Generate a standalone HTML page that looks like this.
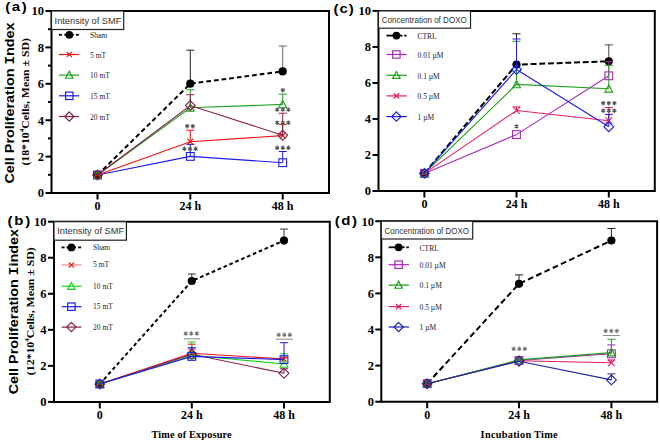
<!DOCTYPE html><html><head><meta charset="utf-8"><style>html,body{margin:0;padding:0;background:#fff;}svg{display:block}</style></head><body>
<svg width="660" height="442" viewBox="0 0 660 442">
<rect width="660" height="442" fill="#fff"/>
<text transform="translate(13.6,183.5) rotate(-90)" font-family='"Liberation Sans", sans-serif' font-size="13" font-weight="bold" textLength="161.1" lengthAdjust="spacingAndGlyphs">Cell Proliferation <tspan font-family='"Liberation Mono", monospace'>I</tspan>ndex</text>
<text transform="translate(28.9,165.6) rotate(-90)" font-family='"Liberation Serif", serif' font-size="11" font-weight="bold" textLength="127.5" lengthAdjust="spacingAndGlyphs">(18*10<tspan font-size="6.5" dy="-4.5">4</tspan><tspan dy="4.5">Cells, Mean ± SD)</tspan></text>
<text transform="translate(18.1,394.3) rotate(-90)" font-family='"Liberation Sans", sans-serif' font-size="13" font-weight="bold" textLength="165.3" lengthAdjust="spacingAndGlyphs">Cell Proliferation <tspan font-family='"Liberation Mono", monospace'>I</tspan>index</text>
<text transform="translate(33.7,375.2) rotate(-90)" font-family='"Liberation Serif", serif' font-size="11" font-weight="bold" textLength="128" lengthAdjust="spacingAndGlyphs">(12*10<tspan font-size="6.5" dy="-4.5">4</tspan><tspan dy="4.5">Cells, Mean ± SD)</tspan></text>
<text transform="translate(5.2,11.3) scale(1.13,1)" font-family='"Liberation Sans", sans-serif' font-size="13.3" font-weight="bold" textLength="19.12" lengthAdjust="spacing">(a)</text>
<text transform="translate(7.4,224.6) scale(1.13,1)" font-family='"Liberation Sans", sans-serif' font-size="13.3" font-weight="bold" textLength="20.18" lengthAdjust="spacing">(b)</text>
<text transform="translate(333.5,13.2) scale(1.13,1)" font-family='"Liberation Sans", sans-serif' font-size="13.3" font-weight="bold" textLength="17.96" lengthAdjust="spacing">(c)</text>
<text transform="translate(334.7,225.2) scale(1.13,1)" font-family='"Liberation Sans", sans-serif' font-size="13.3" font-weight="bold" textLength="19.65" lengthAdjust="spacing">(d)</text>
<text x="151.4" y="438.2" font-family='"Liberation Serif", serif' font-size="10.3" font-weight="bold" textLength="80.3" lengthAdjust="spacing">Time of Exposure</text>
<text x="480.6" y="437.8" font-family='"Liberation Serif", serif' font-size="10.3" font-weight="bold" textLength="77" lengthAdjust="spacing">Incubation Time</text>
<path d="M51.5,11H329V193H51.5Z" fill="none" stroke="#000" stroke-width="2"/>
<line x1="45.5" y1="193" x2="51.5" y2="193" stroke="#000" stroke-width="2" />
<text x="44.1" y="197.4" font-family='"Liberation Serif", serif' font-size="12.5" font-weight="bold" text-anchor="end" fill="#000" >0</text>
<line x1="48" y1="174.8" x2="51.5" y2="174.8" stroke="#000" stroke-width="2" />
<line x1="45.5" y1="156.6" x2="51.5" y2="156.6" stroke="#000" stroke-width="2" />
<text x="44.1" y="161" font-family='"Liberation Serif", serif' font-size="12.5" font-weight="bold" text-anchor="end" fill="#000" >2</text>
<line x1="48" y1="138.4" x2="51.5" y2="138.4" stroke="#000" stroke-width="2" />
<line x1="45.5" y1="120.2" x2="51.5" y2="120.2" stroke="#000" stroke-width="2" />
<text x="44.1" y="124.6" font-family='"Liberation Serif", serif' font-size="12.5" font-weight="bold" text-anchor="end" fill="#000" >4</text>
<line x1="48" y1="102" x2="51.5" y2="102" stroke="#000" stroke-width="2" />
<line x1="45.5" y1="83.8" x2="51.5" y2="83.8" stroke="#000" stroke-width="2" />
<text x="44.1" y="88.2" font-family='"Liberation Serif", serif' font-size="12.5" font-weight="bold" text-anchor="end" fill="#000" >6</text>
<line x1="48" y1="65.6" x2="51.5" y2="65.6" stroke="#000" stroke-width="2" />
<line x1="45.5" y1="47.4" x2="51.5" y2="47.4" stroke="#000" stroke-width="2" />
<text x="44.1" y="51.8" font-family='"Liberation Serif", serif' font-size="12.5" font-weight="bold" text-anchor="end" fill="#000" >8</text>
<line x1="48" y1="29.2" x2="51.5" y2="29.2" stroke="#000" stroke-width="2" />
<line x1="45.5" y1="11" x2="51.5" y2="11" stroke="#000" stroke-width="2" />
<text x="44.1" y="15.4" font-family='"Liberation Serif", serif' font-size="12.5" font-weight="bold" text-anchor="end" fill="#000" >10</text>
<line x1="97.5" y1="193" x2="97.5" y2="199.5" stroke="#000" stroke-width="2" />
<text x="97.5" y="210.3" font-family='"Liberation Serif", serif' font-size="12" font-weight="bold" text-anchor="middle" fill="#000" xml:space="preserve">0</text>
<line x1="190.3" y1="193" x2="190.3" y2="199.5" stroke="#000" stroke-width="2" />
<text x="190.3" y="210.3" font-family='"Liberation Serif", serif' font-size="12" font-weight="bold" text-anchor="middle" fill="#000" xml:space="preserve">24 h</text>
<line x1="282.7" y1="193" x2="282.7" y2="199.5" stroke="#000" stroke-width="2" />
<text x="282.7" y="210.3" font-family='"Liberation Serif", serif' font-size="12" font-weight="bold" text-anchor="middle" fill="#000" xml:space="preserve">48 h</text>
<path d="M54,221.7H329.8V401.9H54Z" fill="none" stroke="#000" stroke-width="2"/>
<line x1="48" y1="401.9" x2="54" y2="401.9" stroke="#000" stroke-width="2" />
<text x="46.6" y="406.3" font-family='"Liberation Serif", serif' font-size="12.5" font-weight="bold" text-anchor="end" fill="#000" >0</text>
<line x1="48" y1="365.86" x2="54" y2="365.86" stroke="#000" stroke-width="2" />
<text x="46.6" y="370.26" font-family='"Liberation Serif", serif' font-size="12.5" font-weight="bold" text-anchor="end" fill="#000" >2</text>
<line x1="48" y1="329.82" x2="54" y2="329.82" stroke="#000" stroke-width="2" />
<text x="46.6" y="334.22" font-family='"Liberation Serif", serif' font-size="12.5" font-weight="bold" text-anchor="end" fill="#000" >4</text>
<line x1="48" y1="293.78" x2="54" y2="293.78" stroke="#000" stroke-width="2" />
<text x="46.6" y="298.18" font-family='"Liberation Serif", serif' font-size="12.5" font-weight="bold" text-anchor="end" fill="#000" >6</text>
<line x1="48" y1="257.74" x2="54" y2="257.74" stroke="#000" stroke-width="2" />
<text x="46.6" y="262.14" font-family='"Liberation Serif", serif' font-size="12.5" font-weight="bold" text-anchor="end" fill="#000" >8</text>
<line x1="48" y1="221.7" x2="54" y2="221.7" stroke="#000" stroke-width="2" />
<text x="46.6" y="226.1" font-family='"Liberation Serif", serif' font-size="12.5" font-weight="bold" text-anchor="end" fill="#000" >10</text>
<line x1="99.8" y1="401.9" x2="99.8" y2="408.4" stroke="#000" stroke-width="2" />
<text x="99.8" y="419.2" font-family='"Liberation Serif", serif' font-size="12" font-weight="bold" text-anchor="middle" fill="#000" xml:space="preserve">0</text>
<line x1="191.8" y1="401.9" x2="191.8" y2="408.4" stroke="#000" stroke-width="2" />
<text x="191.8" y="419.2" font-family='"Liberation Serif", serif' font-size="12" font-weight="bold" text-anchor="middle" fill="#000" xml:space="preserve">24 h</text>
<line x1="284" y1="401.9" x2="284" y2="408.4" stroke="#000" stroke-width="2" />
<text x="284" y="419.2" font-family='"Liberation Serif", serif' font-size="12" font-weight="bold" text-anchor="middle" fill="#000" xml:space="preserve">48 h</text>
<path d="M378.5,10.9H654.8V191H378.5Z" fill="none" stroke="#000" stroke-width="2"/>
<line x1="372.5" y1="191" x2="378.5" y2="191" stroke="#000" stroke-width="2" />
<text x="371.1" y="195.4" font-family='"Liberation Serif", serif' font-size="12.5" font-weight="bold" text-anchor="end" fill="#000" >0</text>
<line x1="372.5" y1="154.98" x2="378.5" y2="154.98" stroke="#000" stroke-width="2" />
<text x="371.1" y="159.38" font-family='"Liberation Serif", serif' font-size="12.5" font-weight="bold" text-anchor="end" fill="#000" >2</text>
<line x1="372.5" y1="118.96" x2="378.5" y2="118.96" stroke="#000" stroke-width="2" />
<text x="371.1" y="123.36" font-family='"Liberation Serif", serif' font-size="12.5" font-weight="bold" text-anchor="end" fill="#000" >4</text>
<line x1="372.5" y1="82.94" x2="378.5" y2="82.94" stroke="#000" stroke-width="2" />
<text x="371.1" y="87.34" font-family='"Liberation Serif", serif' font-size="12.5" font-weight="bold" text-anchor="end" fill="#000" >6</text>
<line x1="372.5" y1="46.92" x2="378.5" y2="46.92" stroke="#000" stroke-width="2" />
<text x="371.1" y="51.32" font-family='"Liberation Serif", serif' font-size="12.5" font-weight="bold" text-anchor="end" fill="#000" >8</text>
<line x1="372.5" y1="10.9" x2="378.5" y2="10.9" stroke="#000" stroke-width="2" />
<text x="371.1" y="15.3" font-family='"Liberation Serif", serif' font-size="12.5" font-weight="bold" text-anchor="end" fill="#000" >10</text>
<line x1="424.4" y1="191" x2="424.4" y2="197.5" stroke="#000" stroke-width="2" />
<text x="424.4" y="208.3" font-family='"Liberation Serif", serif' font-size="12" font-weight="bold" text-anchor="middle" fill="#000" xml:space="preserve">0</text>
<line x1="516.5" y1="191" x2="516.5" y2="197.5" stroke="#000" stroke-width="2" />
<text x="516.5" y="208.3" font-family='"Liberation Serif", serif' font-size="12" font-weight="bold" text-anchor="middle" fill="#000" xml:space="preserve">24 h</text>
<line x1="608.8" y1="191" x2="608.8" y2="197.5" stroke="#000" stroke-width="2" />
<text x="608.8" y="208.3" font-family='"Liberation Serif", serif' font-size="12" font-weight="bold" text-anchor="middle" fill="#000" xml:space="preserve">48 h</text>
<path d="M381.3,221.2H657.1V401.7H381.3Z" fill="none" stroke="#000" stroke-width="2"/>
<line x1="375.3" y1="401.7" x2="381.3" y2="401.7" stroke="#000" stroke-width="2" />
<text x="373.9" y="406.1" font-family='"Liberation Serif", serif' font-size="12.5" font-weight="bold" text-anchor="end" fill="#000" >0</text>
<line x1="375.3" y1="365.6" x2="381.3" y2="365.6" stroke="#000" stroke-width="2" />
<text x="373.9" y="370" font-family='"Liberation Serif", serif' font-size="12.5" font-weight="bold" text-anchor="end" fill="#000" >2</text>
<line x1="375.3" y1="329.5" x2="381.3" y2="329.5" stroke="#000" stroke-width="2" />
<text x="373.9" y="333.9" font-family='"Liberation Serif", serif' font-size="12.5" font-weight="bold" text-anchor="end" fill="#000" >4</text>
<line x1="375.3" y1="293.4" x2="381.3" y2="293.4" stroke="#000" stroke-width="2" />
<text x="373.9" y="297.8" font-family='"Liberation Serif", serif' font-size="12.5" font-weight="bold" text-anchor="end" fill="#000" >6</text>
<line x1="375.3" y1="257.3" x2="381.3" y2="257.3" stroke="#000" stroke-width="2" />
<text x="373.9" y="261.7" font-family='"Liberation Serif", serif' font-size="12.5" font-weight="bold" text-anchor="end" fill="#000" >8</text>
<line x1="375.3" y1="221.2" x2="381.3" y2="221.2" stroke="#000" stroke-width="2" />
<text x="373.9" y="225.6" font-family='"Liberation Serif", serif' font-size="12.5" font-weight="bold" text-anchor="end" fill="#000" >10</text>
<line x1="427.2" y1="401.7" x2="427.2" y2="408.2" stroke="#000" stroke-width="2" />
<text x="427.2" y="419" font-family='"Liberation Serif", serif' font-size="12" font-weight="bold" text-anchor="middle" fill="#000" xml:space="preserve">0</text>
<line x1="519" y1="401.7" x2="519" y2="408.2" stroke="#000" stroke-width="2" />
<text x="519" y="419" font-family='"Liberation Serif", serif' font-size="12" font-weight="bold" text-anchor="middle" fill="#000" xml:space="preserve">24 h</text>
<line x1="611.4" y1="401.7" x2="611.4" y2="408.2" stroke="#000" stroke-width="2" />
<text x="611.4" y="419" font-family='"Liberation Serif", serif' font-size="12" font-weight="bold" text-anchor="middle" fill="#000" xml:space="preserve">48 h</text>
<rect x="51.5" y="11" width="72.2" height="18.5" fill="#fff" stroke="#222" stroke-width="1.2"/>
<text x="54.6" y="23.7" font-family='"Liberation Sans", sans-serif' font-size="9" fill="#333" textLength="66.8" lengthAdjust="spacingAndGlyphs">Intensity of SMF</text>
<line x1="59" y1="34.8" x2="62" y2="34.8" stroke="#000" stroke-width="1.8" />
<line x1="75.9" y1="34.8" x2="78.9" y2="34.8" stroke="#000" stroke-width="1.8" />
<line x1="64.3" y1="34.8" x2="73.9" y2="34.8" stroke="#000" stroke-width="1.8" />
<circle cx="69.3" cy="34.8" r="3.9" fill="#000"/>
<text x="90" y="38" font-family='"Liberation Serif", serif' font-size="7.5" font-weight="normal" text-anchor="start" fill="#222" xml:space="preserve">Sham</text>
<line x1="59" y1="54.5" x2="79.2" y2="54.5" stroke="#f01010" stroke-width="1.2" />
<path d="M66.66,51.86L71.94,57.14M71.94,51.86L66.66,57.14" stroke="#f01010" stroke-width="1.2" fill="none"/>
<text x="90" y="57.7" font-family='"Liberation Serif", serif' font-size="7.5" font-weight="normal" text-anchor="start" fill="#222" xml:space="preserve">5 mT</text>
<line x1="59" y1="75.1" x2="79.2" y2="75.1" stroke="#1fa01f" stroke-width="1.2" />
<polygon points="69.3,71.32 73,78.25 65.59,78.25" fill="none" stroke="#1fa01f" stroke-width="1.2"/>
<text x="90" y="78.3" font-family='"Liberation Serif", serif' font-size="7.5" font-weight="normal" text-anchor="start" fill="#222" xml:space="preserve">10 mT</text>
<line x1="59" y1="95.8" x2="79.2" y2="95.8" stroke="#1c1ce8" stroke-width="1.2" />
<rect x="65.59" y="92.09" width="7.41" height="7.41" fill="none" stroke="#1c1ce8" stroke-width="1.2"/>
<text x="90" y="99" font-family='"Liberation Serif", serif' font-size="7.5" font-weight="normal" text-anchor="start" fill="#222" xml:space="preserve">15 mT</text>
<line x1="59" y1="116.5" x2="79.2" y2="116.5" stroke="#84204a" stroke-width="1.2" />
<polygon points="69.3,111.84 73.95,116.5 69.3,121.16 64.64,116.5" fill="none" stroke="#84204a" stroke-width="1.2"/>
<text x="90" y="119.7" font-family='"Liberation Serif", serif' font-size="7.5" font-weight="normal" text-anchor="start" fill="#222" xml:space="preserve">20 mT</text>
<rect x="54" y="221.7" width="72.4" height="18.5" fill="#fff" stroke="#222" stroke-width="1.2"/>
<text x="57.3" y="234.2" font-family='"Liberation Sans", sans-serif' font-size="9" fill="#333" textLength="66.8" lengthAdjust="spacingAndGlyphs">Intensity of SMF</text>
<line x1="61.6" y1="247.4" x2="64.6" y2="247.4" stroke="#000" stroke-width="1.8" />
<line x1="78.1" y1="247.4" x2="81.1" y2="247.4" stroke="#000" stroke-width="1.8" />
<line x1="66.4" y1="247.4" x2="76" y2="247.4" stroke="#000" stroke-width="1.8" />
<circle cx="71.4" cy="247.4" r="3.9" fill="#000"/>
<text x="93" y="249.8" font-family='"Liberation Serif", serif' font-size="7.5" font-weight="normal" text-anchor="start" fill="#222" xml:space="preserve">Sham</text>
<line x1="61.6" y1="265" x2="81.4" y2="265" stroke="#f08080" stroke-width="1.2" />
<path d="M68.76,262.36L74.04,267.64M74.04,262.36L68.76,267.64" stroke="#f01010" stroke-width="1.2" fill="none"/>
<text x="93" y="267.4" font-family='"Liberation Serif", serif' font-size="7.5" font-weight="normal" text-anchor="start" fill="#222" xml:space="preserve">5 mT</text>
<line x1="61.6" y1="286.3" x2="81.4" y2="286.3" stroke="#1ed21e" stroke-width="1.2" />
<polygon points="71.4,282.52 75.11,289.45 67.7,289.45" fill="none" stroke="#1ed21e" stroke-width="1.2"/>
<text x="93" y="288.7" font-family='"Liberation Serif", serif' font-size="7.5" font-weight="normal" text-anchor="start" fill="#222" xml:space="preserve">10 mT</text>
<line x1="61.6" y1="306.7" x2="81.4" y2="306.7" stroke="#1c1ce8" stroke-width="1.2" />
<rect x="67.7" y="303" width="7.41" height="7.41" fill="none" stroke="#1c1ce8" stroke-width="1.2"/>
<text x="93" y="309.1" font-family='"Liberation Serif", serif' font-size="7.5" font-weight="normal" text-anchor="start" fill="#222" xml:space="preserve">15 mT</text>
<line x1="61.6" y1="327.1" x2="81.4" y2="327.1" stroke="#84204a" stroke-width="1.2" />
<polygon points="71.4,322.45 76.06,327.1 71.4,331.75 66.75,327.1" fill="none" stroke="#84204a" stroke-width="1.2"/>
<text x="93" y="329.5" font-family='"Liberation Serif", serif' font-size="7.5" font-weight="normal" text-anchor="start" fill="#222" xml:space="preserve">20 mT</text>
<rect x="378.5" y="10.9" width="92" height="17.3" fill="#fff" stroke="#222" stroke-width="1.2"/>
<text x="381.8" y="22.9" font-family='"Liberation Sans", sans-serif' font-size="9" fill="#333" textLength="85" lengthAdjust="spacingAndGlyphs">Concentration of DOXO</text>
<line x1="386.4" y1="35.6" x2="402.4" y2="35.6" stroke="#000" stroke-width="1.8" />
<line x1="404.2" y1="35.6" x2="406.6" y2="35.6" stroke="#000" stroke-width="1.8" />
<circle cx="396.4" cy="35.6" r="3.9" fill="#000"/>
<text x="417.5" y="38.8" font-family='"Liberation Serif", serif' font-size="7.5" font-weight="normal" text-anchor="start" fill="#222" xml:space="preserve">CTRL</text>
<line x1="386.4" y1="54.5" x2="406.8" y2="54.5" stroke="#a82ab8" stroke-width="1.2" />
<rect x="392.69" y="50.8" width="7.41" height="7.41" fill="none" stroke="#a82ab8" stroke-width="1.2"/>
<text x="417.5" y="57.7" font-family='"Liberation Serif", serif' font-size="7.5" font-weight="normal" text-anchor="start" fill="#222" xml:space="preserve">0.01 µM</text>
<line x1="386.4" y1="75.3" x2="406.8" y2="75.3" stroke="#1fa01f" stroke-width="1.2" />
<polygon points="396.4,71.52 400.1,78.45 392.69,78.45" fill="none" stroke="#1fa01f" stroke-width="1.2"/>
<text x="417.5" y="78.5" font-family='"Liberation Serif", serif' font-size="7.5" font-weight="normal" text-anchor="start" fill="#222" xml:space="preserve">0.1 µM</text>
<line x1="386.4" y1="95.9" x2="406.8" y2="95.9" stroke="#e81e62" stroke-width="1.2" />
<path d="M393.76,93.26L399.04,98.54M399.04,93.26L393.76,98.54" stroke="#e81e62" stroke-width="1.2" fill="none"/>
<text x="417.5" y="99.1" font-family='"Liberation Serif", serif' font-size="7.5" font-weight="normal" text-anchor="start" fill="#222" xml:space="preserve">0.5 µM</text>
<line x1="386.4" y1="116.6" x2="406.8" y2="116.6" stroke="#1c1ce8" stroke-width="1.2" />
<polygon points="396.4,111.94 401.05,116.6 396.4,121.25 391.75,116.6" fill="none" stroke="#1c1ce8" stroke-width="1.2"/>
<text x="417.5" y="119.8" font-family='"Liberation Serif", serif' font-size="7.5" font-weight="normal" text-anchor="start" fill="#222" xml:space="preserve">1 µM</text>
<rect x="381.3" y="221.2" width="91.4" height="17.8" fill="#fff" stroke="#222" stroke-width="1.2"/>
<text x="384.6" y="233.9" font-family='"Liberation Sans", sans-serif' font-size="9" fill="#333" textLength="84.5" lengthAdjust="spacingAndGlyphs">Concentration of DOXO</text>
<line x1="388.6" y1="247.3" x2="404.6" y2="247.3" stroke="#000" stroke-width="1.8" />
<line x1="406.4" y1="247.3" x2="408.8" y2="247.3" stroke="#000" stroke-width="1.8" />
<circle cx="398.6" cy="247.3" r="3.9" fill="#000"/>
<text x="419.6" y="250.5" font-family='"Liberation Serif", serif' font-size="7.5" font-weight="normal" text-anchor="start" fill="#222" xml:space="preserve">CTRL</text>
<line x1="388.6" y1="264.7" x2="409" y2="264.7" stroke="#a82ab8" stroke-width="1.2" />
<rect x="394.9" y="261" width="7.41" height="7.41" fill="none" stroke="#a82ab8" stroke-width="1.2"/>
<text x="419.6" y="267.9" font-family='"Liberation Serif", serif' font-size="7.5" font-weight="normal" text-anchor="start" fill="#222" xml:space="preserve">0.01 µM</text>
<line x1="388.6" y1="285.1" x2="409" y2="285.1" stroke="#1a9a1a" stroke-width="1.2" />
<polygon points="398.6,281.32 402.31,288.25 394.9,288.25" fill="none" stroke="#1a9a1a" stroke-width="1.2"/>
<text x="419.6" y="288.3" font-family='"Liberation Serif", serif' font-size="7.5" font-weight="normal" text-anchor="start" fill="#222" xml:space="preserve">0.1 µM</text>
<line x1="388.6" y1="306.6" x2="409" y2="306.6" stroke="#e81e62" stroke-width="1.2" />
<path d="M395.96,303.96L401.24,309.24M401.24,303.96L395.96,309.24" stroke="#e81e62" stroke-width="1.2" fill="none"/>
<text x="419.6" y="309.8" font-family='"Liberation Serif", serif' font-size="7.5" font-weight="normal" text-anchor="start" fill="#222" xml:space="preserve">0.5 µM</text>
<line x1="388.6" y1="327" x2="409" y2="327" stroke="#2222aa" stroke-width="1.2" />
<polygon points="398.6,322.35 403.25,327 398.6,331.65 393.95,327" fill="none" stroke="#2222aa" stroke-width="1.2"/>
<text x="419.6" y="330.2" font-family='"Liberation Serif", serif' font-size="7.5" font-weight="normal" text-anchor="start" fill="#222" xml:space="preserve">1 µM</text>
<line x1="190.3" y1="83.7" x2="190.3" y2="50.2" stroke="#222" stroke-width="1" />
<line x1="186.3" y1="50.2" x2="194.3" y2="50.2" stroke="#222" stroke-width="1" />
<line x1="282.7" y1="71.4" x2="282.7" y2="46" stroke="#666" stroke-width="1" />
<line x1="278.7" y1="46" x2="286.7" y2="46" stroke="#666" stroke-width="1" />
<polyline points="97.5,175 190.3,83.7 282.7,71.4" fill="none" stroke="#000" stroke-width="2.0" stroke-dasharray="4.7,3"/>
<circle cx="97.5" cy="175" r="4.1" fill="#000"/>
<circle cx="190.3" cy="83.7" r="4.1" fill="#000"/>
<circle cx="282.7" cy="71.4" r="4.1" fill="#000"/>
<line x1="190.3" y1="156.4" x2="190.3" y2="144.4" stroke="#1c1ce8" stroke-width="1" />
<line x1="186.3" y1="144.4" x2="194.3" y2="144.4" stroke="#1c1ce8" stroke-width="1" />
<line x1="282.7" y1="162.7" x2="282.7" y2="151.5" stroke="#1c1ce8" stroke-width="1" />
<line x1="278.7" y1="151.5" x2="286.7" y2="151.5" stroke="#1c1ce8" stroke-width="1" />
<line x1="190.3" y1="141.7" x2="190.3" y2="130.2" stroke="#f01010" stroke-width="1" />
<line x1="186.3" y1="130.2" x2="194.3" y2="130.2" stroke="#f01010" stroke-width="1" />
<line x1="282.7" y1="135.6" x2="282.7" y2="124.4" stroke="#f01010" stroke-width="1" />
<line x1="278.7" y1="124.4" x2="286.7" y2="124.4" stroke="#f01010" stroke-width="1" />
<line x1="190.3" y1="107.8" x2="190.3" y2="89.8" stroke="#1fa01f" stroke-width="1" />
<line x1="186.3" y1="89.8" x2="194.3" y2="89.8" stroke="#1fa01f" stroke-width="1" />
<line x1="282.7" y1="104.4" x2="282.7" y2="94.2" stroke="#1fa01f" stroke-width="1" />
<line x1="278.7" y1="94.2" x2="286.7" y2="94.2" stroke="#1fa01f" stroke-width="1" />
<line x1="190.3" y1="105.5" x2="190.3" y2="94.7" stroke="#84204a" stroke-width="1" />
<line x1="186.3" y1="94.7" x2="194.3" y2="94.7" stroke="#84204a" stroke-width="1" />
<line x1="282.7" y1="135.3" x2="282.7" y2="113.2" stroke="#84204a" stroke-width="1" />
<line x1="278.7" y1="113.2" x2="286.7" y2="113.2" stroke="#84204a" stroke-width="1" />
<polyline points="97.5,175 190.3,156.4 282.7,162.7" fill="none" stroke="#1c1ce8" stroke-width="1.1" />
<rect x="93.6" y="171.1" width="7.8" height="7.8" fill="none" stroke="#1c1ce8" stroke-width="1.1"/>
<rect x="186.4" y="152.5" width="7.8" height="7.8" fill="none" stroke="#1c1ce8" stroke-width="1.1"/>
<rect x="278.8" y="158.8" width="7.8" height="7.8" fill="none" stroke="#1c1ce8" stroke-width="1.1"/>
<polyline points="97.5,175 190.3,141.7 282.7,135.6" fill="none" stroke="#f01010" stroke-width="1.1" />
<path d="M94.53,172.03L100.47,177.97M100.47,172.03L94.53,177.97" stroke="#f01010" stroke-width="1.1" fill="none"/>
<path d="M187.33,138.73L193.27,144.67M193.27,138.73L187.33,144.67" stroke="#f01010" stroke-width="1.1" fill="none"/>
<path d="M279.73,132.63L285.67,138.57M285.67,132.63L279.73,138.57" stroke="#f01010" stroke-width="1.1" fill="none"/>
<polyline points="97.5,175 190.3,107.8 282.7,104.4" fill="none" stroke="#1fa01f" stroke-width="1.1" />
<polygon points="97.5,171.02 101.4,178.31 93.6,178.31" fill="none" stroke="#1fa01f" stroke-width="1.1"/>
<polygon points="190.3,103.82 194.2,111.11 186.4,111.11" fill="none" stroke="#1fa01f" stroke-width="1.1"/>
<polygon points="282.7,100.42 286.6,107.72 278.8,107.72" fill="none" stroke="#1fa01f" stroke-width="1.1"/>
<polyline points="97.5,175 190.3,105.5 282.7,135.3" fill="none" stroke="#84204a" stroke-width="1.1" />
<polygon points="97.5,170.1 102.4,175 97.5,179.9 92.6,175" fill="none" stroke="#84204a" stroke-width="1.1"/>
<polygon points="190.3,100.6 195.2,105.5 190.3,110.4 185.4,105.5" fill="none" stroke="#84204a" stroke-width="1.1"/>
<polygon points="282.7,130.4 287.6,135.3 282.7,140.2 277.8,135.3" fill="none" stroke="#84204a" stroke-width="1.1"/>
<path d="M187.2,124L187.2,128.4M189.11,125.1L185.29,127.3M189.11,127.3L185.29,125.1" stroke="#555" stroke-width="1.2" fill="none"/>
<path d="M192.8,124L192.8,128.4M194.71,125.1L190.89,127.3M194.71,127.3L190.89,125.1" stroke="#555" stroke-width="1.2" fill="none"/>
<path d="M184.4,146.6L184.4,151M186.31,147.7L182.49,149.9M186.31,149.9L182.49,147.7" stroke="#555" stroke-width="1.2" fill="none"/>
<path d="M190,146.6L190,151M191.91,147.7L188.09,149.9M191.91,149.9L188.09,147.7" stroke="#555" stroke-width="1.2" fill="none"/>
<path d="M195.6,146.6L195.6,151M197.51,147.7L193.69,149.9M197.51,149.9L193.69,147.7" stroke="#555" stroke-width="1.2" fill="none"/>
<path d="M282.8,88L282.8,92.4M284.71,89.1L280.89,91.3M284.71,91.3L280.89,89.1" stroke="#555" stroke-width="1.2" fill="none"/>
<path d="M277.2,107.4L277.2,111.8M279.11,108.5L275.29,110.7M279.11,110.7L275.29,108.5" stroke="#555" stroke-width="1.2" fill="none"/>
<path d="M282.8,107.4L282.8,111.8M284.71,108.5L280.89,110.7M284.71,110.7L280.89,108.5" stroke="#555" stroke-width="1.2" fill="none"/>
<path d="M288.4,107.4L288.4,111.8M290.31,108.5L286.49,110.7M290.31,110.7L286.49,108.5" stroke="#555" stroke-width="1.2" fill="none"/>
<path d="M277.2,120.5L277.2,124.9M279.11,121.6L275.29,123.8M279.11,123.8L275.29,121.6" stroke="#555" stroke-width="1.2" fill="none"/>
<path d="M282.8,120.5L282.8,124.9M284.71,121.6L280.89,123.8M284.71,123.8L280.89,121.6" stroke="#555" stroke-width="1.2" fill="none"/>
<path d="M288.4,120.5L288.4,124.9M290.31,121.6L286.49,123.8M290.31,123.8L286.49,121.6" stroke="#555" stroke-width="1.2" fill="none"/>
<path d="M277.2,145.6L277.2,150M279.11,146.7L275.29,148.9M279.11,148.9L275.29,146.7" stroke="#555" stroke-width="1.2" fill="none"/>
<path d="M282.8,145.6L282.8,150M284.71,146.7L280.89,148.9M284.71,148.9L280.89,146.7" stroke="#555" stroke-width="1.2" fill="none"/>
<path d="M288.4,145.6L288.4,150M290.31,146.7L286.49,148.9M290.31,148.9L286.49,146.7" stroke="#555" stroke-width="1.2" fill="none"/>
<line x1="191.8" y1="281" x2="191.8" y2="274" stroke="#333" stroke-width="1" />
<line x1="187.8" y1="274" x2="195.8" y2="274" stroke="#333" stroke-width="1" />
<line x1="284" y1="240.6" x2="284" y2="229.1" stroke="#333" stroke-width="1" />
<line x1="280" y1="229.1" x2="288" y2="229.1" stroke="#333" stroke-width="1" />
<polyline points="99.8,384 191.8,281 284,240.6" fill="none" stroke="#000" stroke-width="2.0" stroke-dasharray="3.6,2.8"/>
<circle cx="99.8" cy="384" r="4.1" fill="#000"/>
<circle cx="191.8" cy="281" r="4.1" fill="#000"/>
<circle cx="284" cy="240.6" r="4.1" fill="#000"/>
<line x1="191.8" y1="353.2" x2="191.8" y2="344.2" stroke="#f01010" stroke-width="1" />
<line x1="187.8" y1="344.2" x2="195.8" y2="344.2" stroke="#f01010" stroke-width="1" />
<line x1="284" y1="359" x2="284" y2="357.8" stroke="#f01010" stroke-width="1" />
<line x1="280" y1="357.8" x2="288" y2="357.8" stroke="#f01010" stroke-width="1" />
<line x1="191.8" y1="355.3" x2="191.8" y2="342" stroke="#1ed21e" stroke-width="1" />
<line x1="187.8" y1="342" x2="195.8" y2="342" stroke="#1ed21e" stroke-width="1" />
<line x1="284" y1="364" x2="284" y2="353.7" stroke="#1ed21e" stroke-width="1" />
<line x1="280" y1="353.7" x2="288" y2="353.7" stroke="#1ed21e" stroke-width="1" />
<line x1="191.8" y1="354.3" x2="191.8" y2="349" stroke="#84204a" stroke-width="1" />
<line x1="187.8" y1="349" x2="195.8" y2="349" stroke="#84204a" stroke-width="1" />
<line x1="284" y1="373.3" x2="284" y2="368.8" stroke="#84204a" stroke-width="1" />
<line x1="280" y1="368.8" x2="288" y2="368.8" stroke="#84204a" stroke-width="1" />
<line x1="191.8" y1="356.4" x2="191.8" y2="347.7" stroke="#1c1ce8" stroke-width="1" />
<line x1="187.8" y1="347.7" x2="195.8" y2="347.7" stroke="#1c1ce8" stroke-width="1" />
<line x1="284" y1="359.6" x2="284" y2="342.7" stroke="#1c1ce8" stroke-width="1" />
<line x1="280" y1="342.7" x2="288" y2="342.7" stroke="#1c1ce8" stroke-width="1" />
<polyline points="99.8,384 191.8,353.2 284,359" fill="none" stroke="#f01010" stroke-width="1.1" />
<path d="M97.16,381.36L102.44,386.64M102.44,381.36L97.16,386.64" stroke="#f01010" stroke-width="1.1" fill="none"/>
<path d="M189.16,350.56L194.44,355.84M194.44,350.56L189.16,355.84" stroke="#f01010" stroke-width="1.1" fill="none"/>
<path d="M281.36,356.36L286.64,361.64M286.64,356.36L281.36,361.64" stroke="#f01010" stroke-width="1.1" fill="none"/>
<polyline points="99.8,384 191.8,355.3 284,364" fill="none" stroke="#1ed21e" stroke-width="1.1" />
<polygon points="99.8,380.02 103.7,387.31 95.9,387.31" fill="none" stroke="#1ed21e" stroke-width="1.1"/>
<polygon points="191.8,351.32 195.7,358.62 187.9,358.62" fill="none" stroke="#1ed21e" stroke-width="1.1"/>
<polygon points="284,360.02 287.9,367.31 280.1,367.31" fill="none" stroke="#1ed21e" stroke-width="1.1"/>
<polyline points="99.8,384 191.8,354.3 284,373.3" fill="none" stroke="#84204a" stroke-width="1.1" />
<polygon points="99.8,379.1 104.7,384 99.8,388.9 94.9,384" fill="none" stroke="#84204a" stroke-width="1.1"/>
<polygon points="191.8,349.4 196.7,354.3 191.8,359.2 186.9,354.3" fill="none" stroke="#84204a" stroke-width="1.1"/>
<polygon points="284,368.4 288.9,373.3 284,378.2 279.1,373.3" fill="none" stroke="#84204a" stroke-width="1.1"/>
<polyline points="99.8,384 191.8,356.4 284,359.6" fill="none" stroke="#1c1ce8" stroke-width="1.1" />
<rect x="95.9" y="380.1" width="7.8" height="7.8" fill="none" stroke="#1c1ce8" stroke-width="1.1"/>
<rect x="187.9" y="352.5" width="7.8" height="7.8" fill="none" stroke="#1c1ce8" stroke-width="1.1"/>
<rect x="280.1" y="355.7" width="7.8" height="7.8" fill="none" stroke="#1c1ce8" stroke-width="1.1"/>
<path d="M185.7,331.3L185.7,335.7M187.61,332.4L183.79,334.6M187.61,334.6L183.79,332.4" stroke="#777" stroke-width="1.2" fill="none"/>
<path d="M191.3,331.3L191.3,335.7M193.21,332.4L189.39,334.6M193.21,334.6L189.39,332.4" stroke="#777" stroke-width="1.2" fill="none"/>
<path d="M196.9,331.3L196.9,335.7M198.81,332.4L194.99,334.6M198.81,334.6L194.99,332.4" stroke="#777" stroke-width="1.2" fill="none"/>
<line x1="183.7" y1="338.8" x2="200" y2="338.8" stroke="#888" stroke-width="1" />
<path d="M278.7,332.6L278.7,337M280.61,333.7L276.79,335.9M280.61,335.9L276.79,333.7" stroke="#777" stroke-width="1.2" fill="none"/>
<path d="M284.3,332.6L284.3,337M286.21,333.7L282.39,335.9M286.21,335.9L282.39,333.7" stroke="#777" stroke-width="1.2" fill="none"/>
<path d="M289.9,332.6L289.9,337M291.81,333.7L287.99,335.9M291.81,335.9L287.99,333.7" stroke="#777" stroke-width="1.2" fill="none"/>
<line x1="276" y1="339.2" x2="293" y2="339.2" stroke="#888" stroke-width="1" />
<line x1="516.5" y1="64.6" x2="516.5" y2="33.8" stroke="#222" stroke-width="1" />
<line x1="512.5" y1="33.8" x2="520.5" y2="33.8" stroke="#222" stroke-width="1" />
<line x1="608.8" y1="61.3" x2="608.8" y2="44.9" stroke="#444" stroke-width="1" />
<line x1="604.8" y1="44.9" x2="612.8" y2="44.9" stroke="#444" stroke-width="1" />
<polyline points="424.4,173.4 516.5,64.6 608.8,61.3" fill="none" stroke="#000" stroke-width="2.0" stroke-dasharray="6,2.7"/>
<circle cx="424.4" cy="173.4" r="4.1" fill="#000"/>
<circle cx="516.5" cy="64.6" r="4.1" fill="#000"/>
<circle cx="608.8" cy="61.3" r="4.1" fill="#000"/>
<line x1="608.8" y1="75.8" x2="608.8" y2="61.7" stroke="#a82ab8" stroke-width="1" />
<line x1="604.8" y1="61.7" x2="612.8" y2="61.7" stroke="#a82ab8" stroke-width="1" />
<line x1="516.5" y1="84.4" x2="516.5" y2="41.3" stroke="#1fa01f" stroke-width="1" />
<line x1="512.5" y1="41.3" x2="520.5" y2="41.3" stroke="#1fa01f" stroke-width="1" />
<line x1="608.8" y1="88.8" x2="608.8" y2="65.4" stroke="#1fa01f" stroke-width="1" />
<line x1="604.8" y1="65.4" x2="612.8" y2="65.4" stroke="#1fa01f" stroke-width="1" />
<line x1="516.5" y1="110.5" x2="516.5" y2="106.9" stroke="#e81e62" stroke-width="1" />
<line x1="512.5" y1="106.9" x2="520.5" y2="106.9" stroke="#e81e62" stroke-width="1" />
<line x1="608.8" y1="120.7" x2="608.8" y2="107.5" stroke="#e81e62" stroke-width="1" />
<line x1="604.8" y1="107.5" x2="612.8" y2="107.5" stroke="#e81e62" stroke-width="1" />
<line x1="516.5" y1="69.5" x2="516.5" y2="39" stroke="#1c1ce8" stroke-width="1" />
<line x1="512.5" y1="39" x2="520.5" y2="39" stroke="#1c1ce8" stroke-width="1" />
<line x1="608.8" y1="126.7" x2="608.8" y2="114.4" stroke="#1c1ce8" stroke-width="1" />
<line x1="604.8" y1="114.4" x2="612.8" y2="114.4" stroke="#1c1ce8" stroke-width="1" />
<polyline points="424.4,173.4 516.5,134.6 608.8,75.8" fill="none" stroke="#a82ab8" stroke-width="1.1" />
<rect x="420.5" y="169.5" width="7.8" height="7.8" fill="none" stroke="#a82ab8" stroke-width="1.1"/>
<rect x="512.6" y="130.7" width="7.8" height="7.8" fill="none" stroke="#a82ab8" stroke-width="1.1"/>
<rect x="604.9" y="71.9" width="7.8" height="7.8" fill="none" stroke="#a82ab8" stroke-width="1.1"/>
<polyline points="424.4,173.4 516.5,84.4 608.8,88.8" fill="none" stroke="#1fa01f" stroke-width="1.1" />
<polygon points="424.4,169.42 428.3,176.72 420.5,176.72" fill="none" stroke="#1fa01f" stroke-width="1.1"/>
<polygon points="516.5,80.42 520.4,87.72 512.6,87.72" fill="none" stroke="#1fa01f" stroke-width="1.1"/>
<polygon points="608.8,84.82 612.7,92.11 604.9,92.11" fill="none" stroke="#1fa01f" stroke-width="1.1"/>
<polyline points="424.4,173.4 516.5,110.5 608.8,120.7" fill="none" stroke="#e81e62" stroke-width="1.1" />
<path d="M421.1,170.1L427.7,176.7M427.7,170.1L421.1,176.7" stroke="#e81e62" stroke-width="1.1" fill="none"/>
<path d="M513.2,107.2L519.8,113.8M519.8,107.2L513.2,113.8" stroke="#e81e62" stroke-width="1.1" fill="none"/>
<path d="M605.5,117.4L612.1,124M612.1,117.4L605.5,124" stroke="#e81e62" stroke-width="1.1" fill="none"/>
<polyline points="424.4,173.4 516.5,69.5 608.8,126.7" fill="none" stroke="#1c1ce8" stroke-width="1.1" />
<polygon points="424.4,168.5 429.3,173.4 424.4,178.3 419.5,173.4" fill="none" stroke="#1c1ce8" stroke-width="1.1"/>
<polygon points="516.5,64.6 521.4,69.5 516.5,74.4 511.6,69.5" fill="none" stroke="#1c1ce8" stroke-width="1.1"/>
<polygon points="608.8,121.8 613.7,126.7 608.8,131.6 603.9,126.7" fill="none" stroke="#1c1ce8" stroke-width="1.1"/>
<path d="M516.5,124.2L516.5,128.6M518.41,125.3L514.59,127.5M518.41,127.5L514.59,125.3" stroke="#555" stroke-width="1.2" fill="none"/>
<path d="M603.2,101L603.2,105.4M605.11,102.1L601.29,104.3M605.11,104.3L601.29,102.1" stroke="#555" stroke-width="1.2" fill="none"/>
<path d="M608.8,101L608.8,105.4M610.71,102.1L606.89,104.3M610.71,104.3L606.89,102.1" stroke="#555" stroke-width="1.2" fill="none"/>
<path d="M614.4,101L614.4,105.4M616.31,102.1L612.49,104.3M616.31,104.3L612.49,102.1" stroke="#555" stroke-width="1.2" fill="none"/>
<path d="M603.2,108.5L603.2,112.9M605.11,109.6L601.29,111.8M605.11,111.8L601.29,109.6" stroke="#555" stroke-width="1.2" fill="none"/>
<path d="M608.8,108.5L608.8,112.9M610.71,109.6L606.89,111.8M610.71,111.8L606.89,109.6" stroke="#555" stroke-width="1.2" fill="none"/>
<path d="M614.4,108.5L614.4,112.9M616.31,109.6L612.49,111.8M616.31,111.8L612.49,109.6" stroke="#555" stroke-width="1.2" fill="none"/>
<line x1="519" y1="283.8" x2="519" y2="274.9" stroke="#222" stroke-width="1" />
<line x1="515" y1="274.9" x2="523" y2="274.9" stroke="#222" stroke-width="1" />
<line x1="611.4" y1="240.5" x2="611.4" y2="228.5" stroke="#222" stroke-width="1" />
<line x1="607.4" y1="228.5" x2="615.4" y2="228.5" stroke="#222" stroke-width="1" />
<polyline points="427.2,383.7 519,283.8 611.4,240.5" fill="none" stroke="#000" stroke-width="2.0" stroke-dasharray="5.8,3.3"/>
<circle cx="427.2" cy="383.7" r="4.1" fill="#000"/>
<circle cx="519" cy="283.8" r="4.1" fill="#000"/>
<circle cx="611.4" cy="240.5" r="4.1" fill="#000"/>
<line x1="519" y1="360.5" x2="519" y2="358" stroke="#a82ab8" stroke-width="1" />
<line x1="515" y1="358" x2="523" y2="358" stroke="#a82ab8" stroke-width="1" />
<line x1="611.4" y1="353.8" x2="611.4" y2="344.9" stroke="#a82ab8" stroke-width="1" />
<line x1="607.4" y1="344.9" x2="615.4" y2="344.9" stroke="#a82ab8" stroke-width="1" />
<line x1="611.4" y1="362.8" x2="611.4" y2="360" stroke="#e81e62" stroke-width="1" />
<line x1="607.4" y1="360" x2="615.4" y2="360" stroke="#e81e62" stroke-width="1" />
<line x1="519" y1="359.9" x2="519" y2="358" stroke="#1a9a1a" stroke-width="1" />
<line x1="515" y1="358" x2="523" y2="358" stroke="#1a9a1a" stroke-width="1" />
<line x1="611.4" y1="352.6" x2="611.4" y2="339.3" stroke="#1a9a1a" stroke-width="1" />
<line x1="607.4" y1="339.3" x2="615.4" y2="339.3" stroke="#1a9a1a" stroke-width="1" />
<line x1="611.4" y1="379.9" x2="611.4" y2="373.9" stroke="#2222aa" stroke-width="1" />
<line x1="607.4" y1="373.9" x2="615.4" y2="373.9" stroke="#2222aa" stroke-width="1" />
<polyline points="427.2,383.7 519,360.5 611.4,353.8" fill="none" stroke="#a82ab8" stroke-width="1.1" />
<rect x="423.3" y="379.8" width="7.8" height="7.8" fill="none" stroke="#a82ab8" stroke-width="1.1"/>
<rect x="515.1" y="356.6" width="7.8" height="7.8" fill="none" stroke="#a82ab8" stroke-width="1.1"/>
<rect x="607.5" y="349.9" width="7.8" height="7.8" fill="none" stroke="#a82ab8" stroke-width="1.1"/>
<polyline points="427.2,383.7 519,360.8 611.4,362.8" fill="none" stroke="#e81e62" stroke-width="1.1" />
<path d="M423.9,380.4L430.5,387M430.5,380.4L423.9,387" stroke="#e81e62" stroke-width="1.1" fill="none"/>
<path d="M515.7,357.5L522.3,364.1M522.3,357.5L515.7,364.1" stroke="#e81e62" stroke-width="1.1" fill="none"/>
<path d="M608.1,359.5L614.7,366.1M614.7,359.5L608.1,366.1" stroke="#e81e62" stroke-width="1.1" fill="none"/>
<polyline points="427.2,383.7 519,359.9 611.4,352.6" fill="none" stroke="#1a9a1a" stroke-width="1.1" />
<polygon points="427.2,379.72 431.1,387.01 423.3,387.01" fill="none" stroke="#1a9a1a" stroke-width="1.1"/>
<polygon points="519,355.92 522.9,363.21 515.1,363.21" fill="none" stroke="#1a9a1a" stroke-width="1.1"/>
<polygon points="611.4,348.62 615.3,355.92 607.5,355.92" fill="none" stroke="#1a9a1a" stroke-width="1.1"/>
<polyline points="427.2,383.7 519,361.2 611.4,379.9" fill="none" stroke="#2222aa" stroke-width="1.1" />
<polygon points="427.2,378.8 432.1,383.7 427.2,388.6 422.3,383.7" fill="none" stroke="#2222aa" stroke-width="1.1"/>
<polygon points="519,356.3 523.9,361.2 519,366.1 514.1,361.2" fill="none" stroke="#2222aa" stroke-width="1.1"/>
<polygon points="611.4,375 616.3,379.9 611.4,384.8 606.5,379.9" fill="none" stroke="#2222aa" stroke-width="1.1"/>
<path d="M513.7,346.6L513.7,351M515.61,347.7L511.79,349.9M515.61,349.9L511.79,347.7" stroke="#777" stroke-width="1.2" fill="none"/>
<path d="M519.3,346.6L519.3,351M521.21,347.7L517.39,349.9M521.21,349.9L517.39,347.7" stroke="#777" stroke-width="1.2" fill="none"/>
<path d="M524.9,346.6L524.9,351M526.81,347.7L522.99,349.9M526.81,349.9L522.99,347.7" stroke="#777" stroke-width="1.2" fill="none"/>
<path d="M605.7,328.8L605.7,333.2M607.61,329.9L603.79,332.1M607.61,332.1L603.79,329.9" stroke="#777" stroke-width="1.2" fill="none"/>
<path d="M611.3,328.8L611.3,333.2M613.21,329.9L609.39,332.1M613.21,332.1L609.39,329.9" stroke="#777" stroke-width="1.2" fill="none"/>
<path d="M616.9,328.8L616.9,333.2M618.81,329.9L614.99,332.1M618.81,332.1L614.99,329.9" stroke="#777" stroke-width="1.2" fill="none"/>
<line x1="603" y1="335.5" x2="619.8" y2="335.5" stroke="#888" stroke-width="1" />
</svg></body></html>
